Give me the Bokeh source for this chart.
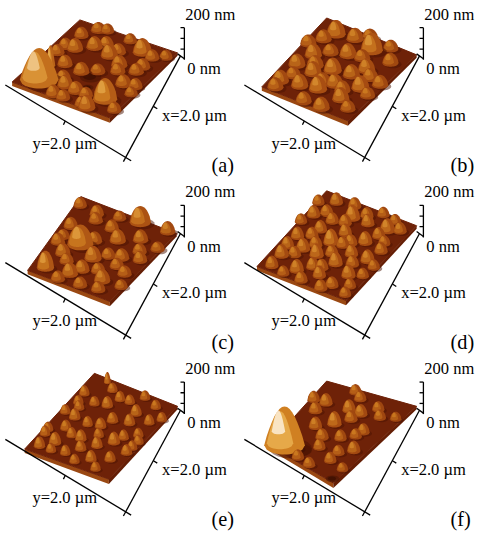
import numpy as np
from bokeh.plotting import figure
from bokeh.models import Range1d
from bokeh.core.properties import value
from bokeh.embed import file_html
from bokeh.resources import INLINE

# ---------------- data ----------------
panel_labels = ["(a)", "(b)", "(c)", "(d)", "(e)", "(f)"]
z_top_label = "200 nm"
z_zero_label = "0 nm"
x_axis_label = "x=2.0 µm"
y_axis_label = "y=2.0 µm"
scan_um = 2.0

# grains: x (µm), y (µm), height (nm), radius (µm)
a_x = [1.72, 1.62, 0.26, 1.30, 0.72, 0.52, 0.60, 1.20, 1.64, 1.94, 1.96, 1.16, 0.74, 0.76, 0.32, 1.94, 1.94, 0.40, 0.36, 0.74, 1.06, 1.68, 1.14, 0.10, 0.05, 1.40, 1.30, 1.80, 0.10, 0.45, 0.90, 1.40, 0.95, 1.50, 0.60, 0.20, 1.70, 1.10]
a_y = [0.36, 1.64, 1.46, 0.30, 0.40, 0.66, 1.02, 0.86, 0.84, 0.80, 1.50, 0.50, 1.32, 1.68, 1.70, 1.00, 1.38, 0.82, 0.28, 0.22, 1.10, 1.08, 1.68, 1.10, 0.60, 1.50, 1.95, 1.95, 0.45, 1.10, 1.40, 0.20, 0.20, 0.70, 1.70, 1.90, 1.30, 1.90]
a_h = [140, 95, 60, 110, 45, 45, 50, 40, 45, 40, 55, 40, 40, 35, 35, 35, 35, 40, 35, 35, 30, 40, 40, 30, 30, 35, 30, 35, 30, 35, 35, 40, 35, 35, 35, 30, 35, 35]
a_r = [0.40, 0.25, 0.20, 0.10, 0.17, 0.17, 0.18, 0.17, 0.17, 0.16, 0.18, 0.16, 0.17, 0.16, 0.15, 0.15, 0.15, 0.16, 0.15, 0.15, 0.16, 0.17, 0.17, 0.14, 0.14, 0.15, 0.14, 0.15, 0.16, 0.16, 0.16, 0.16, 0.15, 0.16, 0.16, 0.14, 0.15, 0.15]

b_x = [0.29, 0.26, 1.06, 1.58, 1.66, 1.72, 0.60, 1.20, 0.76, 1.60, 1.95, 1.96, 0.90, 1.24, 1.00, 0.40, 1.28, 1.90, 0.48, 0.96, 0.20, 1.34, 0.05, 0.70, 1.40, 1.10, 0.55, 0.90, 1.75, 1.40, 0.10, 1.50, 1.30, 0.70]
b_y = [1.22, 0.40, 0.92, 0.98, 0.62, 0.22, 0.92, 1.66, 1.46, 1.52, 1.34, 0.94, 0.36, 0.24, 1.30, 1.72, 0.64, 0.24, 0.28, 1.92, 0.78, 1.18, 1.00, 0.10, 0.95, 0.55, 1.20, 1.65, 1.80, 1.40, 1.50, 0.35, 1.90, 0.60]
b_h = [75, 60, 55, 60, 50, 45, 50, 55, 50, 50, 45, 40, 50, 45, 45, 40, 50, 40, 40, 40, 45, 45, 35, 35, 40, 40, 35, 40, 35, 40, 35, 35, 35, 35]
b_r = [0.23, 0.20, 0.19, 0.19, 0.18, 0.18, 0.18, 0.19, 0.18, 0.18, 0.18, 0.17, 0.18, 0.18, 0.18, 0.17, 0.18, 0.17, 0.17, 0.17, 0.18, 0.18, 0.17, 0.17, 0.18, 0.18, 0.17, 0.17, 0.16, 0.17, 0.16, 0.16, 0.16, 0.17]

c_x = [1.02, 0.06, 1.80, 1.22, 1.74, 1.62, 0.64, 0.44, 0.04, 0.25, 0.72, 1.56, 1.36, 0.98, 0.44, 0.88, 1.16, 0.84, 1.90, 0.20, 1.30, 1.95, 0.50, 1.05, 1.45, 0.40, 1.00, 1.50, 1.20, 1.85, 0.15, 0.70, 1.60]
c_y = [0.60, 1.28, 0.30, 1.02, 0.84, 1.52, 1.18, 1.54, 1.84, 0.48, 0.20, 1.00, 0.42, 1.50, 0.92, 1.84, 0.18, 0.80, 1.20, 0.10, 1.80, 0.70, 1.95, 1.25, 1.30, 0.55, 0.20, 0.60, 1.55, 1.60, 0.90, 1.70, 1.95]
c_h = [85, 70, 80, 55, 50, 50, 50, 45, 45, 40, 40, 45, 45, 40, 40, 40, 40, 40, 35, 35, 35, 35, 30, 35, 35, 35, 30, 35, 35, 35, 30, 35, 30]
c_r = [0.27, 0.22, 0.18, 0.18, 0.17, 0.17, 0.17, 0.16, 0.16, 0.15, 0.15, 0.16, 0.16, 0.16, 0.15, 0.15, 0.15, 0.16, 0.15, 0.14, 0.15, 0.15, 0.15, 0.15, 0.15, 0.15, 0.14, 0.15, 0.15, 0.15, 0.14, 0.15, 0.14]

d_x = [0.34, 0.98, 0.32, 1.34, 1.32, 1.36, 1.50, 1.06, 1.60, 1.88, 1.78, 1.72, 0.16, 0.58, 0.34, 0.70, 0.72, 1.12, 0.82, 1.06, 0.78, 1.60, 1.82, 0.24, 1.38, 0.56, 1.95, 1.96, 0.05, 1.20, 0.50, 0.10, 0.20, 0.50, 0.95, 1.15, 1.50, 1.55, 1.25, 1.70, 1.40, 1.90, 1.95, 0.30, 0.10, 0.85, 0.45, 1.00, 0.80, 0.60, 1.15]
d_y = [0.84, 0.86, 1.60, 0.82, 0.50, 1.26, 1.66, 1.74, 0.24, 0.24, 0.72, 1.18, 0.34, 0.16, 1.18, 0.96, 1.42, 0.22, 0.50, 1.38, 1.82, 0.94, 1.54, 1.82, 0.20, 0.56, 0.95, 1.40, 1.30, 1.05, 1.55, 0.70, 1.05, 0.80, 1.10, 0.65, 0.45, 1.10, 1.55, 1.85, 1.90, 1.90, 0.55, 0.05, 1.60, 1.20, 0.35, 0.45, 0.05, 1.75, 1.95]
d_h = [60, 65, 55, 55, 50, 55, 50, 50, 50, 45, 50, 45, 45, 45, 45, 45, 50, 45, 45, 45, 40, 45, 40, 40, 45, 40, 40, 40, 35, 40, 40, 40, 40, 40, 40, 40, 40, 40, 40, 35, 35, 35, 35, 35, 35, 40, 40, 40, 35, 35, 35]
d_r = [0.16, 0.16, 0.16, 0.15, 0.15, 0.15, 0.15, 0.15, 0.15, 0.14, 0.15, 0.14, 0.14, 0.14, 0.14, 0.14, 0.15, 0.14, 0.14, 0.14, 0.14, 0.14, 0.14, 0.14, 0.14, 0.14, 0.14, 0.14, 0.13, 0.14, 0.14, 0.14, 0.14, 0.14, 0.14, 0.14, 0.14, 0.14, 0.14, 0.13, 0.13, 0.13, 0.13, 0.13, 0.13, 0.14, 0.14, 0.14, 0.13, 0.13, 0.13]

e_x = [1.22, 1.42, 1.66, 1.40, 0.72, 0.48, 0.54, 1.00, 1.02, 1.74, 1.34, 0.08, 1.84, 1.56, 0.56, 0.32, 1.40, 0.48, 0.20, 1.80, 1.04, 1.06, 1.06, 0.98, 0.30, 1.20, 1.90, 0.80, 0.20, 0.70, 0.80, 1.30, 1.60, 1.60, 0.40, 1.90, 0.60, 1.20, 0.10, 1.85, 0.90, 1.45]
e_y = [1.48, 1.24, 0.44, 0.84, 1.44, 1.40, 0.76, 0.98, 0.38, 1.36, 1.88, 0.38, 0.22, 0.12, 1.78, 0.88, 0.62, 0.16, 1.64, 0.80, 1.92, 0.72, 1.58, 0.12, 1.10, 1.10, 1.10, 0.30, 0.60, 0.20, 1.10, 0.40, 1.70, 1.00, 1.95, 1.60, 0.50, 1.90, 1.30, 0.50, 1.80, 0.10]
e_h = [50, 45, 50, 45, 45, 45, 45, 40, 45, 45, 40, 55, 45, 40, 40, 40, 40, 40, 35, 40, 35, 40, 40, 35, 35, 35, 35, 35, 35, 35, 40, 40, 40, 40, 35, 35, 35, 35, 35, 35, 35, 35]
e_r = [0.13, 0.12, 0.13, 0.12, 0.12, 0.12, 0.12, 0.12, 0.12, 0.12, 0.12, 0.07, 0.12, 0.11, 0.11, 0.11, 0.11, 0.11, 0.11, 0.11, 0.11, 0.11, 0.11, 0.11, 0.11, 0.11, 0.11, 0.11, 0.11, 0.11, 0.12, 0.12, 0.12, 0.12, 0.11, 0.11, 0.11, 0.11, 0.11, 0.11, 0.11, 0.11]

f_x = [1.82, 0.92, 0.54, 0.52, 0.52, 0.56, 1.14, 1.28, 0.86, 1.66, 1.94, 1.92, 0.46, 1.16, 0.08, 0.38, 1.52, 0.80, 0.30, 1.00, 1.30, 0.70, 1.70, 0.20, 1.45]
f_y = [0.32, 0.88, 0.36, 0.90, 1.18, 0.08, 0.58, 1.74, 1.56, 1.50, 1.18, 0.82, 1.58, 1.26, 0.70, 1.88, 1.04, 0.30, 1.40, 1.50, 0.90, 1.10, 1.90, 0.90, 1.50]
f_h = [180, 60, 45, 50, 45, 40, 45, 45, 40, 40, 35, 35, 35, 40, 35, 30, 40, 40, 35, 35, 40, 40, 30, 35, 35]
f_r = [0.42, 0.15, 0.14, 0.14, 0.14, 0.13, 0.14, 0.14, 0.13, 0.13, 0.13, 0.13, 0.13, 0.13, 0.13, 0.12, 0.13, 0.14, 0.13, 0.13, 0.14, 0.14, 0.12, 0.13, 0.13]

# depressions: x (µm), y (µm), radius (µm)
a_pit_x = [1.24, 1.50]
a_pit_y = [1.08, 1.20]
a_pit_r = [0.22, 0.12]
f_pit_x = [1.76, 1.94]
f_pit_y = [0.70, 1.90]
f_pit_r = [0.26, 0.14]

grains = [
    (a_x, a_y, a_h, a_r, a_pit_x, a_pit_y, a_pit_r),
    (b_x, b_y, b_h, b_r, [], [], []),
    (c_x, c_y, c_h, c_r, [], [], []),
    (d_x, d_y, d_h, d_r, [], [], []),
    (e_x, e_y, e_h, e_r, [], [], []),
    (f_x, f_y, f_h, f_r, f_pit_x, f_pit_y, f_pit_r),
]
for g in grains:
    assert len(g[0]) == len(g[1]) == len(g[2]) == len(g[3])
    assert len(g[4]) == len(g[5]) == len(g[6])

# ---------------- layout (reference pixel space) ----------------
origins = [(0, 0), (247, 0), (0, 183), (247, 183), (0, 365), (247, 365)]
# surface corners (top, left, right, bottom) relative to panel origin
corners = [
    ((82, 20), (12, 84), (183, 54), (113, 121)),
    ((90, 18), (23, 89), (183, 56), (112, 124)),
    ((83, 19), (28, 95), (182, 57), (113, 127)),
    ((90, 13), (18, 91), (183, 49), (110, 126)),
    ((97, 19), (25, 97), (183, 53), (112, 128)),
    ((90, 27), (30, 93), (183, 53), (97, 132)),
]
PX_PER_UM = 50.0
PX_PER_NM = 0.17
FONT_SCALE = 480 / 496

stops_f = [0.0, 0.3, 0.5, 0.7, 0.85, 1.0]
stops_c = np.array([(60, 14, 0), (118, 40, 8), (168, 78, 18), (208, 128, 34), (234, 176, 80), (255, 248, 236)], float)


def cmap(f):
    f = float(np.clip(f, 0, 1))
    rgb = [int(round(np.interp(f, stops_f, stops_c[:, k]))) for k in range(3)]
    return "#%02x%02x%02x" % tuple(rgb)


def project(i, xu, yu):
    ox, oy = origins[i]
    T, L, R, B = [np.array(c, float) for c in corners[i]]
    u = np.clip(xu / scan_um, 0, 1)
    v = np.clip(yu / scan_um, 0, 1)
    P = T * (1 - u) * (1 - v) + L * u * (1 - v) + R * (1 - u) * v + B * u * v
    return P[0] + ox, P[1] + oy


TT = np.linspace(-1, 1, 17)


def mound(cx, cy, R, H, power):
    s = np.sqrt(np.clip(1 - TT ** 2, 0, 1))
    top = cy - H * np.clip(1 - TT ** 2, 0, 1) ** power - 0.45 * R * s
    bot = cy + 0.45 * R * s
    xs = list(cx + R * TT) + list(cx + R * TT[::-1])
    ys = list(top) + list(bot[::-1])
    return xs, ys


def oval(cx, cy, rx, ry):
    a = np.linspace(0, 2 * np.pi, 20, endpoint=False)
    return list(cx + rx * np.cos(a)), list(cy + ry * np.sin(a))


p = figure(width=480, height=534, output_backend="svg", toolbar_location=None,
           x_range=Range1d(0, 496), y_range=Range1d(550, 0), min_border=0)
p.axis.visible = False
p.grid.visible = False
p.outline_line_color = None
p.background_fill_color = "white"

# surfaces (top face and the two front walls)
top_xs, top_ys, lf_xs, lf_ys, rf_xs, rf_ys = [], [], [], [], [], []
for i in range(6):
    ox, oy = origins[i]
    T, L, R, B = corners[i]
    top_xs.append([T[0] + ox, R[0] + ox, B[0] + ox, L[0] + ox])
    top_ys.append([T[1] + oy, R[1] + oy, B[1] + oy, L[1] + oy])
    lf_xs.append([L[0] + ox, B[0] + ox, B[0] + ox, L[0] + ox])
    lf_ys.append([L[1] + oy, B[1] + oy, B[1] + oy + 5, L[1] + oy + 4])
    rf_xs.append([B[0] + ox, R[0] + ox, R[0] + ox, B[0] + ox])
    rf_ys.append([B[1] + oy, R[1] + oy, R[1] + oy + 3, B[1] + oy + 5])
p.patches(lf_xs, lf_ys, fill_color="#9a4812", line_color=None)
p.patches(rf_xs, rf_ys, fill_color="#641e05", line_color=None)
p.patches(top_xs, top_ys, fill_color="#6e2208", line_color="#6e2208", line_width=1)

# grains, drawn back to front
PX, PY, PC, PA = [], [], [], []


def add(xs, ys, c, a):
    PX.append(xs); PY.append(ys); PC.append(c); PA.append(a)


for i, (gx, gy, gh, gr, qx, qy, qr) in enumerate(grains):
    for x, y, r in zip(qx, qy, qr):
        cx, cy = project(i, x, y)
        R = r * PX_PER_UM
        xs, ys = oval(cx, cy, R, 0.5 * R)
        add(xs, ys, "#4a1604", 0.6)
        xs, ys = oval(cx - 0.1 * R, cy - 0.05 * R, 0.6 * R, 0.3 * R)
        add(xs, ys, "#2e0a00", 0.5)
    items = sorted((project(i, x, y)[1], project(i, x, y)[0], h, r) for x, y, h, r in zip(gx, gy, gh, gr))
    for cy, cx, h, r in items:
        R = r * PX_PER_UM
        H = h * PX_PER_NM
        hf = min(h / 120.0, 1.6)
        pw = 0.75 if h < 100 else 1.25
        xs, ys = oval(cx + 0.3 * R, cy + 0.15 * R, 1.05 * R, 0.5 * R)
        add(xs, ys, "#4a1202", 0.5)
        xs, ys = mound(cx, cy, R, H, pw)
        add(xs, ys, cmap(0.40 + 0.2 * hf), 1.0)
        xs, ys = mound(cx - 0.22 * R, cy - 0.1 * R, 0.65 * R, 0.88 * H, pw)
        add(xs, ys, cmap(0.52 + 0.22 * hf), 0.85)
        xs, ys = mound(cx - 0.3 * R, cy - 0.25 * R - 0.3 * H, 0.33 * R, 0.6 * H, pw)
        add(xs, ys, cmap(0.63 + 0.25 * hf), 0.75)

p.patches(PX, PY, fill_color=PC, fill_alpha=PA, line_color=None)

# axis decorations
lxs, lys = [], []
for ox, oy in origins:
    segs = [
        ((190, 28), (190, 61)),
        ((186, 28), (190, 28)), ((186, 39), (190, 39)), ((186, 50), (190, 50)),
        ((186, 57), (127, 166)),
        ((183, 55), (190, 60)),
        ((158, 109), (162, 111.5)),
        ((5, 87), (135, 165)),
        ((67, 124), (65, 128)),
    ]
    for (x0, y0), (x1, y1) in segs:
        lxs.append([x0 + ox, x1 + ox])
        lys.append([y0 + oy, y1 + oy])
p.multi_line(lxs, lys, line_color="black", line_width=1.3)

font = value("'Liberation Serif', 'Times New Roman', serif")
tx, ty, tt = [], [], []
for ox, oy in origins:
    tx += [191 + ox, 193 + ox, 167 + ox, 33 + ox]
    ty += [14 + oy, 70 + oy, 118 + oy, 147 + oy]
    tt += [z_top_label, z_zero_label, x_axis_label, y_axis_label]
p.text(tx, ty, text=tt, text_font=font, text_font_size="%.1fpx" % (17 * FONT_SCALE),
       text_baseline="middle", text_align="left", text_color="black")
p.text([o[0] + 218 for o in origins], [o[1] + 169 for o in origins], text=panel_labels,
       text_font=font, text_font_size="%.1fpx" % (21 * FONT_SCALE), text_baseline="middle",
       text_align="left", text_color="black")

open("out.html", "w").write(file_html(p, INLINE))
